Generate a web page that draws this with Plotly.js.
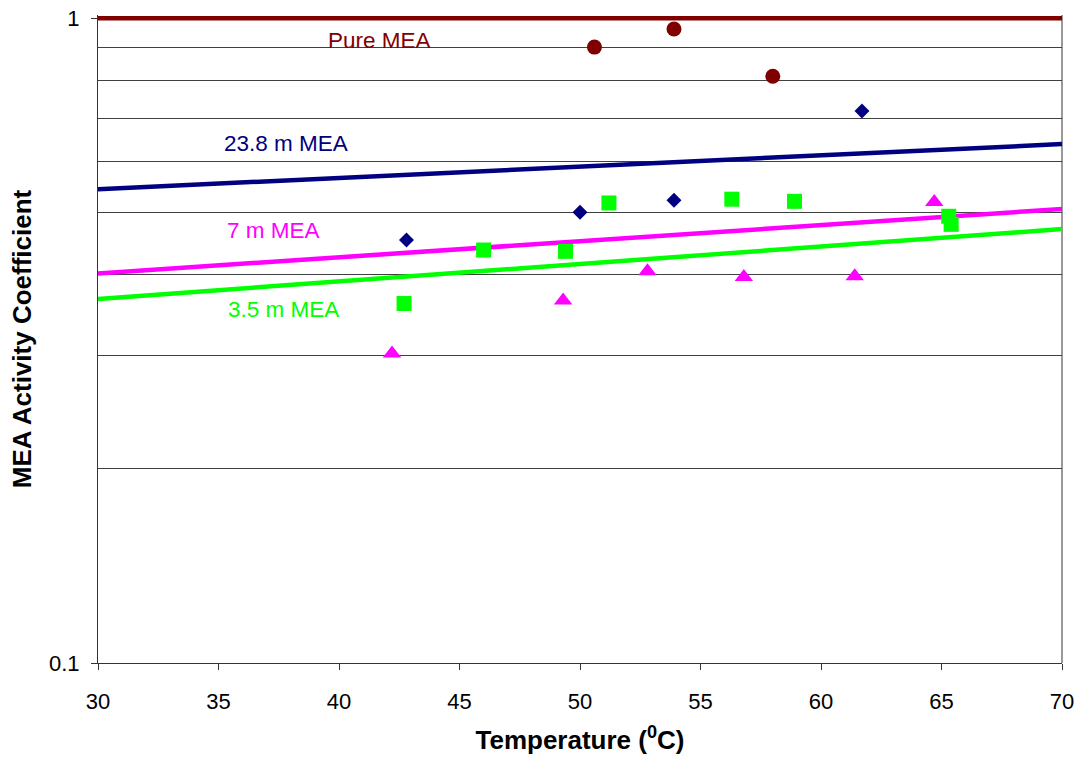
<!DOCTYPE html>
<html>
<head>
<meta charset="utf-8">
<script src="https://cdn.plot.ly/plotly-3.0.1.min.js"></script>
<style>
  html, body { margin: 0; padding: 0; background: #ffffff; }
  #chart { width: 1078px; height: 761px; }
</style>
</head>
<body>
<div id="chart"></div>
<script>
// Measured MEA activity coefficients (temperature in degC)
const pureTemp = [50.6, 53.9, 58.0];
const pureGamma = [0.902, 0.962, 0.813];

const m238Temp = [42.8, 50.0, 53.9, 61.7];
const m238Gamma = [0.453, 0.500, 0.522, 0.718];

const m7Temp = [42.2, 49.3, 52.8, 56.8, 61.4, 64.7];
const m7Gamma = [0.302, 0.365, 0.405, 0.397, 0.398, 0.519];

const m35Temp = [42.7, 46.0, 49.4, 51.2, 56.3, 58.9, 65.3, 65.4];
const m35Gamma = [0.361, 0.437, 0.435, 0.517, 0.524, 0.520, 0.493, 0.479];

// Model curves, evaluated at the ends of the temperature range
const fitTemp = [30, 70];
const pureFit = [1.0, 1.0];
const m238Fit = [0.543, 0.638];
const m7Fit = [0.402, 0.506];
const m35Fit = [0.367, 0.471];

// Series labels placed beside their curves
const labelText = ['Pure MEA', '23.8 m MEA', '7 m MEA', '3.5 m MEA'];
const labelTemp = [41.7, 37.8, 37.3, 37.7];
const labelGamma = [0.924, 0.639, 0.469, 0.353];

const colors = ['#800000', '#000080', '#ff00ff', '#00ff00'];
const FONT = 'Liberation Sans, Arial, Helvetica, sans-serif';

const gridVals = [0.2, 0.3, 0.4, 0.5, 0.6, 0.7, 0.8, 0.9];

function fitLine(y, color) {
  return { x: fitTemp, y: y, mode: 'lines', type: 'scatter',
           line: { color: color, width: 4.5 }, hoverinfo: 'skip' };
}
function points(x, y, color, symbol, size) {
  return { x: x, y: y, mode: 'markers', type: 'scatter', cliponaxis: false,
           marker: { color: color, symbol: symbol, size: size, line: { width: 0 } } };
}

const traces = [
  fitLine(pureFit, colors[0]),
  fitLine(m238Fit, colors[1]),
  fitLine(m7Fit, colors[2]),
  fitLine(m35Fit, colors[3]),
  points(pureTemp, pureGamma, colors[0], 'circle', 15),
  points(m238Temp, m238Gamma, colors[1], 'diamond', 11.5),
  points(m35Temp, m35Gamma, colors[3], 'square', 15),
  points(m7Temp, m7Gamma, colors[2], 'triangle-up', 16)
];

const annotations = labelText.map((t, i) => ({
  x: labelTemp[i], y: Math.log10(labelGamma[i]), xref: 'x', yref: 'y',
  text: t, showarrow: false, xanchor: 'center', yanchor: 'middle',
  font: { family: FONT, size: 22.5, color: colors[i] }
}));

const layout = {
  width: 1078, height: 761,
  margin: { l: 98, r: 16, t: 14.8, b: 98, pad: 0 },
  paper_bgcolor: '#ffffff', plot_bgcolor: '#ffffff',
  showlegend: false,
  font: { family: FONT, size: 22, color: '#000000' },
  xaxis: {
    range: [30, 70], tickmode: 'linear', tick0: 30, dtick: 5,
    ticks: 'outside', ticklen: 6, tickwidth: 1, tickcolor: '#333333',
    showline: true, linecolor: '#333333', linewidth: 1,
    showgrid: false, zeroline: false,
    ticklabelstandoff: 13,
    tickfont: { family: FONT, size: 22, color: '#000000' },
    title: { text: 'Temperature (<sup>0</sup>C)', standoff: 17,
             font: { family: FONT, size: 26, weight: 'bold', color: '#000000' } }
  },
  yaxis: {
    type: 'log', range: [-1, 0.005],
    tickmode: 'array', tickvals: [0.1, 1], ticktext: ['0.1', '1'],
    ticks: 'outside', ticklen: 6, tickwidth: 1, tickcolor: '#333333',
    showline: true, linecolor: '#333333', linewidth: 1,
    showgrid: false, zeroline: false,
    ticklabelstandoff: 7,
    tickfont: { family: FONT, size: 22, color: '#000000' },
    minor: { tickmode: 'array', tickvals: gridVals, showgrid: true,
             gridcolor: '#404040', gridwidth: 1, ticks: '' },
    title: { text: 'MEA Activity Coefficient', standoff: 9,
             font: { family: FONT, size: 26, weight: 'bold', color: '#000000' } }
  },
  shapes: [{
    type: 'line', xref: 'paper', yref: 'paper', x0: 1, x1: 1, y0: 0, y1: 1,
    line: { color: '#999999', width: 2 }, layer: 'below'
  }],
  annotations: annotations
};

Plotly.newPlot('chart', traces, layout, { displayModeBar: false, staticPlot: true });
</script>
</body>
</html>
